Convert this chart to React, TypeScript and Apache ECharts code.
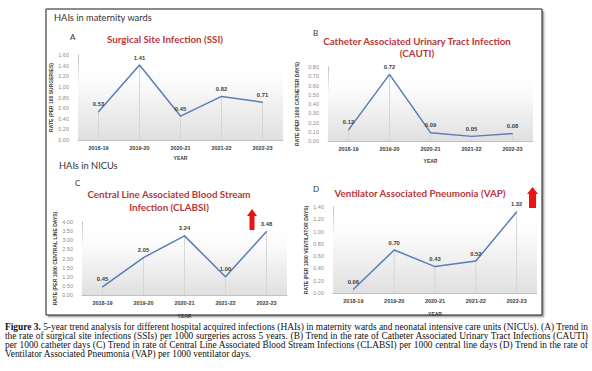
import React, { useEffect, useRef } from "react";
import * as echarts from "echarts";

const years = ["2018-19", "2019-20", "2020-21", "2021-22", "2022-23"];
const ssi = [0.53, 1.41, 0.45, 0.82, 0.71];
const cauti = [0.12, 0.72, 0.09, 0.05, 0.08];
const clabsi = [0.45, 2.05, 3.24, 1.0, 3.48];
const vap = [0.06, 0.7, 0.43, 0.52, 1.32];

const yMax = [1.6, 0.8, 4.0, 1.4];
const yStep = [0.2, 0.1, 0.5, 0.2];
const yNames = [
  "RATE (PER 100 SURGERIES)",
  "RATE (PER 1000 CATHETER DAYS)",
  "RATE (PER 1000 CENTRAL LINE DAYS)",
  "RATE (PER 1000 VENTILATOR DAYS)",
];

const captionLines = [
  "5-year trend analysis for different hospital acquired infections (HAIs) in maternity wards and neonatal intensive care units (NICUs). (A) Trend in",
  "the rate of surgical site infections (SSIs) per 1000 surgeries across 5 years. (B) Trend in the rate of Catheter Associated Urinary Tract Infections (CAUTI)",
  "per 1000 catheter days (C) Trend in rate of Central Line Associated Blood Stream Infections (CLABSI) per 1000 central line days (D) Trend in the rate of",
  "Ventilator Associated Pneumonia (VAP) per 1000 ventilator days.",
];

const LINE = "#5a7db8";
const RED = "#b8393b";
const TITLE_FONT = "Lato";

export default function App() {
  const ref = useRef<HTMLDivElement>(null);
  useEffect(() => {
    if (!ref.current) return;
    const chart = echarts.init(ref.current, undefined, { renderer: "svg" });
    const grids = [
      { left: 78, top: 55, width: 205, height: 85 },
      { left: 328, top: 67, width: 205, height: 74 },
      { left: 82, top: 222, width: 205, height: 73 },
      { left: 333, top: 207, width: 204, height: 86 },
    ];
    const nameGaps = [25, 29, 25, 25];
    const yearGaps = [15, 17, 18, 18];
    const datasets = [ssi, cauti, clabsi, vap];
    const bg = new echarts.graphic.LinearGradient(0, 0, 0, 1, [
      { offset: 0, color: "rgba(255,255,255,0)" },
      { offset: 0.35, color: "rgba(250,250,250,1)" },
      { offset: 1, color: "rgba(224,224,224,1)" },
    ]);
    const text = (t: string, x: number, y: number, font: string, fill: string, align = "left") => ({
      type: "text",
      z: 10,
      style: { text: t, x, y, font, fill, textAlign: align, textVerticalAlign: "middle" },
    });
    const option: any = {
      animation: false,
      grid: grids.map((g) => ({
        ...g,
        z: 1,
        show: true,
        borderWidth: 0,
        backgroundColor: bg,
        containLabel: false,
      })),
      xAxis: grids.map((_, i) => ({
        type: "category",
        gridIndex: i,
        data: years,
        boundaryGap: true,
        axisLine: { show: true, lineStyle: { color: "#bfbfbf", width: 1 } },
        axisTick: { show: false },
        axisLabel: {
          fontSize: 5.5,
          fontWeight: "bold",
          color: "#404040",
          margin: 5,
          fontFamily: "Liberation Sans",
        },
        name: "YEAR",
        nameLocation: "middle",
        nameGap: yearGaps[i],
        nameTextStyle: { fontSize: 5, fontWeight: "bold", color: "#404040", fontFamily: "Liberation Sans" },
      })),
      yAxis: grids.map((_, i) => ({
        type: "value",
        gridIndex: i,
        min: 0,
        max: yMax[i],
        interval: yStep[i],
        axisLine: { show: true, lineStyle: { color: "#bfbfbf", width: 1 } },
        axisTick: { show: false },
        splitLine: { show: false },
        axisLabel: {
          fontSize: 5.5,
          color: "#8c8c8c",
          margin: 9,
          fontFamily: "Liberation Sans",
          formatter: (v: number) => v.toFixed(2),
        },
        name: yNames[i],
        nameLocation: "middle",
        nameRotate: 90,
        nameGap: nameGaps[i],
        nameTextStyle: { fontSize: 5, fontWeight: "bold", color: "#404040", fontFamily: "Liberation Sans" },
      })),
      series: datasets.flatMap((d, i) => [
        {
          type: "bar",
          xAxisIndex: i,
          yAxisIndex: i,
          data: d,
          barWidth: 0.8,
          itemStyle: { color: "#d6d6d6" },
          silent: true,
          z: 1,
        },
        {
          type: "line",
          xAxisIndex: i,
          yAxisIndex: i,
          data: d,
          symbol: "circle",
          symbolSize: 1,
          showSymbol: true,
          itemStyle: { color: LINE },
          lineStyle: { color: LINE, width: 1.5 },
          z: 3,
          label: {
            show: true,
            position: "top",
            distance: 4,
            fontSize: 5.8,
            fontWeight: "bold",
            color: "#404040",
            fontFamily: "Liberation Sans",
            formatter: (p: any) => Number(p.value).toFixed(2),
          },
          labelLayout: { hideOverlap: false },
        },
      ]),
      graphic: [
        {
          type: "rect",
          z: 0,
          shape: { x: 48, y: 11, width: 496, height: 306 },
          style: { fill: "#b0b0b0", shadowBlur: 3, shadowColor: "rgba(0,0,0,0.35)" },
        },
        {
          type: "rect",
          z: 0,
          shape: { x: 46, y: 9, width: 496, height: 306 },
          style: { fill: "#ffffff", stroke: "#1a1a1a", lineWidth: 1 },
        },
        text("HAIs in maternity wards", 54, 17, "9.3px " + TITLE_FONT, "#333333"),
        text("HAIs in NICUs", 59, 165, "9.3px " + TITLE_FONT, "#333333"),
        text("A", 70, 37, "8px " + TITLE_FONT, "#333333"),
        text("B", 313, 33, "8px " + TITLE_FONT, "#333333"),
        text("C", 75, 183, "8px " + TITLE_FONT, "#333333"),
        text("D", 313, 189, "8px " + TITLE_FONT, "#333333"),
        text("Surgical Site Infection (SSI)", 165, 39, "bold 9.8px " + TITLE_FONT, RED, "center"),
        text("Catheter Associated Urinary Tract Infection", 417, 41, "bold 9.8px " + TITLE_FONT, RED, "center"),
        text("(CAUTI)", 417, 53, "bold 9.8px " + TITLE_FONT, RED, "center"),
        text("Central Line Associated Blood Stream", 169, 194, "bold 9.8px " + TITLE_FONT, RED, "center"),
        text("Infection (CLABSI)", 169, 207, "bold 9.8px " + TITLE_FONT, RED, "center"),
        text("Ventilator Associated Pneumonia (VAP)", 420, 193, "bold 9.8px " + TITLE_FONT, RED, "center"),
        {
          type: "polygon",
          z: 10,
          shape: {
            points: [
              [252, 209], [257, 216], [254.5, 216], [254.5, 230], [249.5, 230], [249.5, 216], [247, 216],
            ],
          },
          style: { fill: "#ee1111" },
        },
        {
          type: "polygon",
          z: 10,
          shape: {
            points: [
              [532.5, 187], [538, 194], [536, 194], [536, 208], [529, 208], [529, 194], [527, 194],
            ],
          },
          style: { fill: "#ee1111" },
        },
      ],
    };
    chart.setOption(option);
    return () => chart.dispose();
  }, []);

  return (
    <div style={{ position: "absolute", left: 0, top: 0, width: 592, height: 371, background: "#fff" }}>
      <div ref={ref} style={{ position: "absolute", left: 0, top: 0, width: 592, height: 371 }} />
      <div
        style={{
          position: "absolute",
          left: 5,
          top: 323,
          width: 583,
          fontFamily: "'Liberation Serif', serif",
          fontSize: 9.4,
          lineHeight: "9px",
          color: "#111",
        }}
      >
        {captionLines.map((l, i) => (
          <div
            key={i}
            style={{
              textAlign: i < captionLines.length - 1 ? "justify" : "left",
              textAlignLast: i < captionLines.length - 1 ? "justify" : "left",
              whiteSpace: "nowrap",
            } as any}
          >
            {i === 0 ? (
              <>
                <b>Figure 3.</b> {l}
              </>
            ) : (
              l
            )}
          </div>
        ))}
      </div>
    </div>
  );
}
